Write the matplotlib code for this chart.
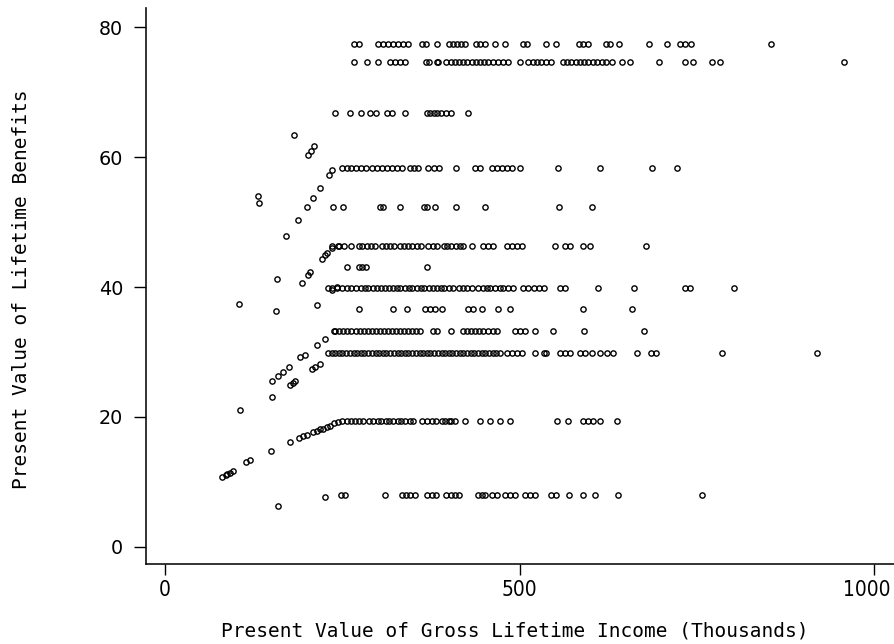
import matplotlib
matplotlib.use("Agg")
import matplotlib.pyplot as plt
from matplotlib import font_manager
from matplotlib.transforms import ScaledTranslation

# ---------------- data ----------------
# band levels (present value of lifetime benefits)
level_A = 77.4
level_B = 74.7
level_C = 66.8
level_D = 58.3
level_E = 52.4
level_F = 46.3
level_G = 43.1
level_H = 39.9
level_I = 36.6
level_J = 33.3
level_K = 29.9
level_L = 19.3
level_M = 8.0

# incomes (thousands) of points sitting on each band
income_A = [267, 273, 301, 308, 315, 322, 329, 336, 343, 362, 368, 383, 400, 406, 412, 418,
            423, 439, 444, 451, 466, 480, 505, 511, 537, 552, 584, 590, 596, 622, 628, 641,
            682, 708, 726, 733, 742, 855]
income_B = [267, 285, 301, 317, 324, 332, 338, 368, 373, 383, 385, 396, 403, 409, 415, 421,
            426, 433, 439, 444, 450, 456, 463, 470, 477, 484, 501, 512, 519, 525, 531, 538,
            544, 561, 567, 573, 579, 585, 591, 597, 603, 609, 616, 622, 630, 644, 656, 697,
            733, 745, 771, 783, 958]
income_C = [240, 261, 276, 289, 297, 313, 320, 338, 369, 374, 379, 384, 389, 397, 404, 428]
income_D = [249, 256, 263, 270, 277, 284, 292, 299, 306, 313, 320, 327, 334, 346, 351, 357,
            371, 379, 386, 410, 437, 444, 461, 468, 475, 482, 489, 501, 554, 613, 687, 722]
income_E = [237, 251, 303, 308, 331, 365, 370, 381, 411, 451, 556, 602]
income_F = [235, 244, 246, 252, 262, 273, 278, 285, 291, 296, 306, 312, 317, 323, 332, 337,
            343, 349, 355, 361, 371, 378, 383, 393, 398, 404, 410, 416, 421, 433, 449, 456,
            463, 482, 489, 496, 503, 550, 564, 571, 590, 599, 678]
income_G = [256, 273, 278, 284, 369]
income_H = [230, 235, 242, 249, 256, 262, 270, 276, 282, 287, 293, 299, 304, 310, 316, 321,
            327, 332, 338, 344, 349, 355, 361, 366, 372, 378, 383, 389, 394, 400, 406, 414,
            420, 426, 433, 442, 448, 454, 459, 465, 472, 477, 484, 491, 505, 512, 520, 527,
            534, 557, 564, 611, 662, 733, 741, 803]
income_I = [274, 322, 342, 367, 374, 381, 390, 428, 435, 447, 470, 487, 589, 659]
income_J = [238, 245, 251, 256, 263, 269, 275, 281, 286, 292, 298, 303, 309, 315, 320, 326,
            331, 337, 343, 348, 354, 360, 378, 384, 404, 420, 426, 431, 437, 443, 449, 456,
            463, 468, 494, 501, 508, 522, 547, 591, 676]
income_K = [230, 235, 240, 245, 250, 255, 261, 266, 271, 276, 281, 286, 292, 297, 302, 307,
            312, 317, 323, 328, 333, 338, 343, 348, 354, 359, 364, 369, 374, 379, 385, 390,
            395, 400, 405, 410, 416, 421, 426, 431, 436, 441, 447, 452, 457, 462, 467, 473,
            482, 489, 496, 503, 522, 534, 538, 557, 564, 571, 585, 592, 602, 614, 623, 632,
            666, 686, 693, 786, 920]
income_L = [250, 256, 262, 268, 273, 279, 288, 294, 300, 305, 311, 316, 322, 328, 333, 339,
            345, 350, 362, 369, 376, 382, 390, 395, 400, 404, 409, 423, 444, 458, 473, 487,
            553, 569, 590, 597, 604, 614, 638]
income_M = [248, 254, 310, 334, 340, 346, 353, 369, 376, 382, 397, 403, 409, 415, 442, 447,
            451, 461, 468, 480, 487, 494, 508, 515, 522, 544, 551, 570, 590, 606, 639, 758]

# points on the rising (income-dependent) part
ramp_income = [182, 210, 206, 201, 235, 232, 131, 133, 219, 209, 200, 187, 170,
               235, 228, 226, 222,
               158, 205, 201, 193, 242, 235,
               105, 157, 214,
               240, 225, 214,
               198, 191, 219, 212, 207, 175, 166, 160, 151,
               183, 180, 176, 151, 106,
               177, 189, 195, 200, 209, 214, 219, 223, 228, 233, 238, 244,
               150, 114, 120,
               81, 86, 88, 92, 96,
               160, 225]
ramp_benefit = [63.5, 61.7, 60.9, 60.4, 58.1, 57.3, 54.0, 53.0, 55.3, 53.8, 52.4, 50.4, 47.8,
                46.0, 45.2, 44.9, 44.4,
                41.3, 42.3, 41.8, 40.6, 40.0, 39.5,
                37.4, 36.3, 37.2,
                33.3, 32.0, 31.1,
                29.6, 29.2, 28.2, 27.7, 27.3, 27.7, 26.9, 26.3, 25.5,
                25.5, 25.2, 24.9, 23.1, 21.1,
                16.2, 16.8, 17.0, 17.2, 17.7, 17.9, 18.1, 18.2, 18.5, 18.6, 19.0, 19.2,
                14.8, 13.1, 13.3,
                10.8, 11.0, 11.2, 11.4, 11.6,
                6.3, 7.6]

x_ticks = [0, 500, 1000]
y_ticks = [0, 20, 40, 60, 80]
x_label = "Present Value of Gross Lifetime Income (Thousands)"
y_label = "Present Value of Lifetime Benefits"

# ---------------- fonts ----------------
def find_narrow_font():
    files = [f.fname for f in font_manager.fontManager.ttflist]
    for key in ("LiberationSansNarrow-Regular", "DejaVuSansCondensed.ttf",
                "RobotoCondensed-Regular", "OpenSans_Condensed-Regular",
                "OpenSansCondensed", "Condensed-Regular", "Narrow"):
        for fn in files:
            if key.lower() in fn.lower() and "bold" not in fn.lower() \
                    and "oblique" not in fn.lower() and "italic" not in fn.lower():
                return fn
    return None

narrow_file = find_narrow_font()
if narrow_file:
    xtick_font = font_manager.FontProperties(fname=narrow_file, size=15)
else:
    xtick_font = font_manager.FontProperties(family="DejaVu Sans", size=13)

# ---------------- figure ----------------
W, H = 895, 644
fig = plt.figure(figsize=(W / 100, H / 100), dpi=100)
ax = fig.add_axes([146 / W, 1 - 564 / H, (W - 146) / W, (564 - 8) / H])

bands = [(level_A, income_A), (level_B, income_B), (level_C, income_C), (level_D, income_D),
         (level_E, income_E), (level_F, income_F), (level_G, income_G), (level_H, income_H),
         (level_I, income_I), (level_J, income_J), (level_K, income_K), (level_L, income_L),
         (level_M, income_M)]

style = dict(linestyle="none", marker="o", ms=3.8, mfc="none", mec="black", mew=1.0)
for lev, xs in bands:
    ax.plot(xs, [lev] * len(xs), **style)
ax.plot(ramp_income, ramp_benefit, **style)

ax.set_xlim(-26.8, 1029.6)
ax.set_ylim(-2.67, 83.0)

for s in ("top", "right"):
    ax.spines[s].set_visible(False)
for s in ("left", "bottom"):
    ax.spines[s].set_linewidth(1.2)
    ax.spines[s].set_color("#111111")

ax.set_xticks(x_ticks)
ax.set_xticklabels([str(v) for v in x_ticks], fontproperties=xtick_font)
ax.set_yticks(y_ticks)
ax.set_yticklabels([str(v) for v in y_ticks], family="DejaVu Sans", fontsize=13.8)
ax.tick_params(axis="y", direction="out", length=8.5, width=1.0, pad=8)
ax.tick_params(axis="x", direction="out", length=8.0, width=1.0, pad=3.5)

# keep the rightmost tick label inside the canvas
last = ax.xaxis.get_major_ticks()[-1].label1
last.set_transform(last.get_transform() + ScaledTranslation(-7 / 100, 0, fig.dpi_scale_trans))

fig.text(515 / W, 1 - 631 / H, x_label, ha="center", va="center",
         family="DejaVu Sans Mono", fontsize=14)
fig.text(22 / W, 1 - 289 / H, y_label, ha="center", va="center", rotation=90,
         family="DejaVu Sans Mono", fontsize=14)

fig.savefig("out.png", dpi=100)
